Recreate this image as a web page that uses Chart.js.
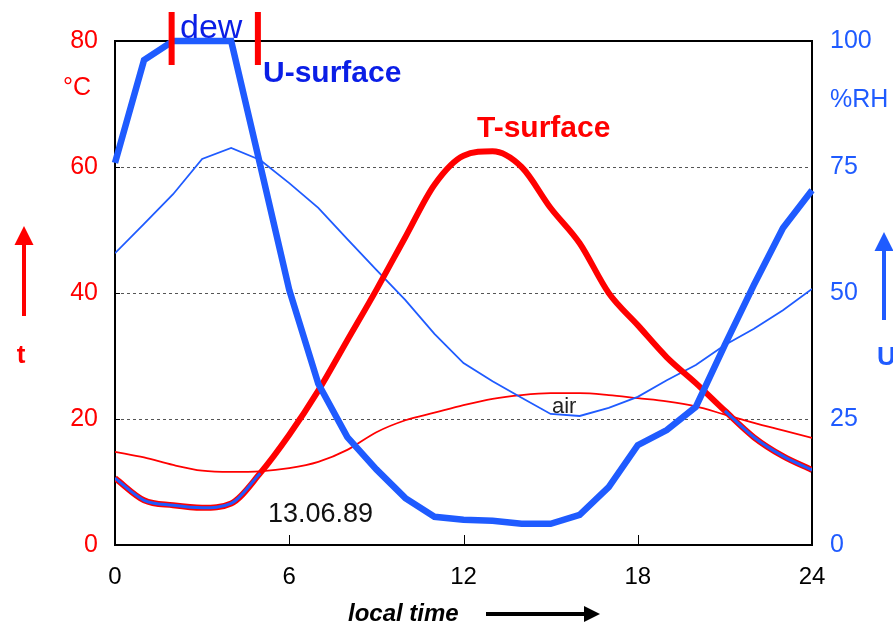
<!DOCTYPE html>
<html>
<head>
<meta charset="utf-8">
<script src="https://cdn.jsdelivr.net/npm/chart.js@4.4.1/dist/chart.umd.min.js"></script>
<style>
  html, body { margin: 0; padding: 0; background: #fff; }
  #wrap { width: 893px; height: 627px; }
</style>
</head>
<body>
<div id="wrap"><canvas id="dewChart" width="893" height="627"></canvas></div>
<script>
// daily course 13.06.89, hourly readings
const hours = [0, 1, 2, 3, 4, 5, 6, 7, 8, 9, 10, 11, 12, 13, 14, 15, 16, 17, 18, 19, 20, 21, 22, 23, 24];
const tSurface = [10.6, 7.1, 6.3, 5.9, 6.6, 11.4, 17.5, 24.5, 32.5, 40.5, 48.9, 57.2, 61.8, 62.5, 60.0, 53.5, 47.9, 40.0, 34.9, 29.8, 25.7, 21.3, 17.1, 14.1, 11.9];
const tAir = [14.8, 13.9, 12.7, 11.8, 11.6, 11.7, 12.2, 13.2, 15.1, 17.9, 19.8, 21.0, 22.2, 23.2, 23.8, 24.1, 24.1, 23.8, 23.3, 22.8, 22.0, 20.7, 19.4, 18.2, 17.0];
const uSurface = [75.8, 96.2, 100, 100, 100, 75.4, 50.6, 32.0, 21.4, 15.0, 9.3, 5.6, 5.0, 4.8, 4.2, 4.2, 6.0, 11.5, 19.8, 22.8, 27.4, 39.7, 51.6, 62.9, 70.4];
const uAir = [57.9, 63.7, 69.6, 76.6, 78.8, 76.4, 71.8, 66.9, 60.7, 54.6, 48.6, 41.9, 36.1, 32.5, 29.2, 26.0, 25.6, 27.2, 29.4, 32.7, 35.7, 39.7, 42.9, 46.6, 50.8];
// surface temperature where dew forms (blue line over the red one)
const dewSurface = [10.6, 7.1, 6.3, 5.9, 6.6, 11.4, null, null, null, null, null, null, null, null, null, null, null, null, null, null, null, 21.3, 17.1, 14.1, 11.9];
const dewPeriod = [1.95, 4.92];
const timeTicks = [0, 6, 12, 18, 24];
const tempTicks = [0, 20, 40, 60, 80];
const rhTicks = [0, 25, 50, 75, 100];

const RED = '#ff0000';
const BLUE = '#1f5bff';
const DARKBLUE = '#0a1ee6';
const FONT = "'Liberation Sans', Arial, sans-serif";

const pts = vals => hours.map((h, i) => ({ x: h, y: vals[i] }));

function arrow(ctx, x1, y1, x2, y2, color, w, head) {
    const ang = Math.atan2(y2 - y1, x2 - x1);
    ctx.strokeStyle = color;
    ctx.fillStyle = color;
    ctx.lineWidth = w;
    ctx.beginPath();
    ctx.moveTo(x1, y1);
    ctx.lineTo(x2 - Math.cos(ang) * head * 0.8, y2 - Math.sin(ang) * head * 0.8);
    ctx.stroke();
    ctx.beginPath();
    ctx.moveTo(x2, y2);
    ctx.lineTo(x2 - Math.cos(ang) * head + Math.sin(ang) * head * 0.5, y2 - Math.sin(ang) * head - Math.cos(ang) * head * 0.5);
    ctx.lineTo(x2 - Math.cos(ang) * head - Math.sin(ang) * head * 0.5, y2 - Math.sin(ang) * head + Math.cos(ang) * head * 0.5);
    ctx.closePath();
    ctx.fill();
}

const decorations = {
    id: 'decorations',
    beforeDatasetsDraw(chart) {
        const { ctx, chartArea: a, scales } = chart;
        ctx.save();
        ctx.strokeStyle = '#000';
        ctx.lineWidth = 2;
        ctx.strokeRect(a.left, a.top, a.right - a.left, a.bottom - a.top);
        ctx.lineWidth = 1;
        ctx.beginPath();
        timeTicks.slice(1, -1).forEach(h => {
            const x = Math.round(scales.x.getPixelForValue(h)) + 0.5;
            ctx.moveTo(x, a.bottom);
            ctx.lineTo(x, a.bottom - 10);
        });
        tempTicks.slice(1, -1).forEach(v => {
            const y = Math.round(scales.yT.getPixelForValue(v)) + 0.5;
            ctx.moveTo(a.left, y);
            ctx.lineTo(a.left + 5, y);
        });
        ctx.stroke();
        ctx.restore();
    },
    afterDraw(chart) {
        const { ctx, scales } = chart;
        ctx.save();
        ctx.textBaseline = 'alphabetic';
        ctx.textAlign = 'left';

        // dew period markers
        ctx.strokeStyle = RED;
        ctx.lineWidth = 6;
        ctx.beginPath();
        dewPeriod.forEach(h => {
            const x = scales.x.getPixelForValue(h);
            ctx.moveTo(x, 12);
            ctx.lineTo(x, 65);
        });
        ctx.stroke();
        ctx.fillStyle = DARKBLUE;
        ctx.font = '34px ' + FONT;
        ctx.fillText('dew', 180, 38);

        ctx.font = 'bold 30px ' + FONT;
        ctx.fillStyle = DARKBLUE;
        ctx.fillText('U-surface', 263, 82);
        ctx.fillStyle = RED;
        ctx.fillText('T-surface', 477, 137);

        ctx.font = '22px ' + FONT;
        ctx.fillStyle = '#222';
        ctx.fillText('air', 552, 413);

        ctx.font = '27px ' + FONT;
        ctx.fillStyle = '#111';
        ctx.fillText('13.06.89', 268, 522);

        ctx.font = '25px ' + FONT;
        ctx.fillStyle = RED;
        ctx.fillText('°C', 63, 95);
        ctx.fillStyle = BLUE;
        ctx.fillText('%RH', 830, 107);

        ctx.font = 'bold 26px ' + FONT;
        ctx.fillStyle = RED;
        ctx.textAlign = 'center';
        ctx.fillText('t', 21, 363);
        ctx.fillStyle = BLUE;
        ctx.textAlign = 'left';
        ctx.fillText('U', 877, 365);

        arrow(ctx, 24, 316, 24, 226, RED, 4, 19);
        arrow(ctx, 884, 320, 884, 232, BLUE, 4, 19);

        ctx.font = 'italic bold 24px ' + FONT;
        ctx.fillStyle = '#000';
        ctx.fillText('local time', 348, 621);
        arrow(ctx, 486, 614, 600, 614, '#000', 4, 16);
        ctx.restore();
    }
};

new Chart(document.getElementById('dewChart'), {
    type: 'line',
    data: {
        datasets: [
            { label: 'dew', data: pts(dewSurface), yAxisID: 'yT', borderColor: BLUE, borderWidth: 3, pointRadius: 0, cubicInterpolationMode: 'monotone', spanGaps: false, order: 0 },
            { label: 'U-surface', data: pts(uSurface), yAxisID: 'yU', borderColor: BLUE, borderWidth: 6.5, pointRadius: 0, tension: 0, order: 1, clip: 6 },
            { label: 'T-surface', data: pts(tSurface), yAxisID: 'yT', borderColor: RED, borderWidth: 6, pointRadius: 0, cubicInterpolationMode: 'monotone', order: 2 },
            { label: 'U-air', data: pts(uAir), yAxisID: 'yU', borderColor: BLUE, borderWidth: 1.8, pointRadius: 0, tension: 0, order: 3 },
            { label: 'T-air', data: pts(tAir), yAxisID: 'yT', borderColor: RED, borderWidth: 1.8, pointRadius: 0, cubicInterpolationMode: 'monotone', order: 4 },
        ],
    },
    options: {
        responsive: false,
        animation: false,
        events: [],
        layout: { padding: { top: 41, left: 0, right: 0, bottom: 0 } },
        plugins: { legend: { display: false }, tooltip: { enabled: false } },
        scales: {
            x: {
                type: 'linear',
                min: 0,
                max: 24,
                afterBuildTicks: s => { s.ticks = timeTicks.map(v => ({ value: v })); },
                afterFit: s => { s.height = 82; },
                grid: { display: false },
                border: { display: false },
                ticks: { color: '#000', font: { size: 24, family: FONT }, padding: 10, maxRotation: 0 },
            },
            yT: {
                position: 'left',
                min: 0,
                max: 80,
                afterBuildTicks: s => { s.ticks = tempTicks.map(v => ({ value: v })); },
                afterFit: s => { s.width = 115; },
                grid: { color: c => ([20, 40, 60].includes(c.tick && c.tick.value) ? '#555' : 'rgba(0,0,0,0)'), lineWidth: 1, drawTicks: false },
                border: { display: false, dash: [3, 3] },
                ticks: { color: RED, font: { size: 25, family: FONT }, padding: 17 },
            },
            yU: {
                position: 'right',
                min: 0,
                max: 100,
                afterBuildTicks: s => { s.ticks = rhTicks.map(v => ({ value: v })); },
                afterFit: s => { s.width = 81; },
                grid: { display: false, drawTicks: false },
                border: { display: false },
                ticks: { color: BLUE, font: { size: 25, family: FONT }, padding: 18 },
            },
        },
    },
    plugins: [decorations],
});
</script>
</body>
</html>
